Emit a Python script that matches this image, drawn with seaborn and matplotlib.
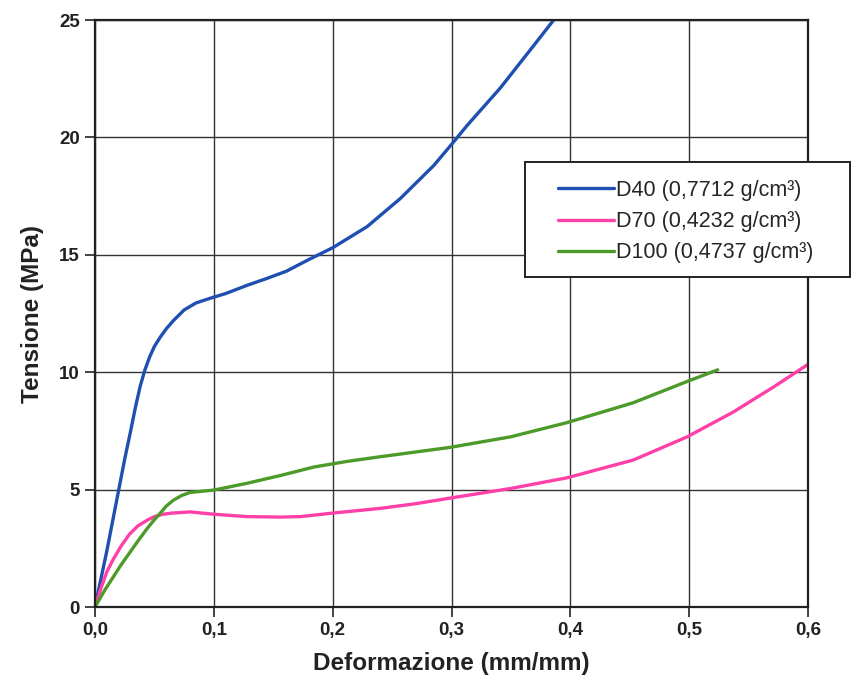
import pandas as pd
import matplotlib
matplotlib.use("Agg")
import matplotlib.pyplot as plt
import seaborn as sns
from matplotlib.patches import Rectangle

# Curve data (strain in mm/mm, stress in MPa)
d40_strain = [0, 0.005, 0.010, 0.015, 0.020, 0.025, 0.030, 0.034, 0.038, 0.042,
              0.046, 0.050, 0.055, 0.060, 0.066, 0.075, 0.085, 0.097, 0.110, 0.128,
              0.145, 0.161, 0.180, 0.200, 0.229, 0.257, 0.285, 0.300, 0.313, 0.341,
              0.369, 0.386]
d40_stress = [0, 1.2, 2.4, 3.7, 5.0, 6.3, 7.5, 8.5, 9.4, 10.1,
              10.65, 11.1, 11.5, 11.85, 12.2, 12.65, 12.95, 13.15, 13.35, 13.7,
              14.0, 14.3, 14.8, 15.3, 16.2, 17.4, 18.8, 19.7, 20.5, 22.1,
              23.9, 25.0]

d70_strain = [0, 0.005, 0.010, 0.015, 0.022, 0.029, 0.036, 0.044, 0.050, 0.057,
              0.065, 0.080, 0.100, 0.128, 0.156, 0.173, 0.200, 0.240, 0.270, 0.299,
              0.350, 0.397, 0.453, 0.498, 0.537, 0.571, 0.599]
d70_stress = [0, 0.8, 1.5, 2.0, 2.6, 3.1, 3.45, 3.7, 3.85, 3.95,
              4.0, 4.05, 3.95, 3.85, 3.83, 3.85, 4.0, 4.2, 4.4, 4.64,
              5.05, 5.5, 6.26, 7.24, 8.3, 9.37, 10.3]

d100_strain = [0, 0.008, 0.015, 0.022, 0.029, 0.036, 0.044, 0.050, 0.055, 0.060,
               0.066, 0.073, 0.080, 0.100, 0.128, 0.156, 0.184, 0.212, 0.240, 0.299,
               0.350, 0.397, 0.453, 0.498, 0.524]
d100_stress = [0, 0.7, 1.25, 1.8, 2.3, 2.8, 3.35, 3.72, 4.0, 4.3,
               4.55, 4.75, 4.88, 4.98, 5.27, 5.6, 5.96, 6.2, 6.4, 6.8,
               7.25, 7.85, 8.7, 9.6, 10.1]

series_labels = ["D40 (0,7712 g/cm³)", "D70 (0,4232 g/cm³)", "D100 (0,4737 g/cm³)"]
series_colors = ["#1f4fb0", "#ff40a8", "#4c9a2a"]

x_ticks = [0.0, 0.1, 0.2, 0.3, 0.4, 0.5, 0.6]
x_tick_labels = ["0,0", "0,1", "0,2", "0,3", "0,4", "0,5", "0,6"]
y_ticks = [0, 5, 10, 15, 20, 25]

# long-form table for seaborn
frames = []
for lab, xs, ys in zip(series_labels,
                       [d40_strain, d70_strain, d100_strain],
                       [d40_stress, d70_stress, d100_stress]):
    frames.append(pd.DataFrame({"strain": xs, "stress": ys, "serie": lab}))
df = pd.concat(frames, ignore_index=True)

sns.set_theme(style="white")
plt.rcParams["font.family"] = ["Liberation Sans", "DejaVu Sans"]

fig = plt.figure(figsize=(8.55, 6.99), dpi=100)
ax = fig.add_axes([95 / 855, 1 - 607 / 699, (808 - 95) / 855, (607 - 20) / 699])

sns.lineplot(data=df, x="strain", y="stress", hue="serie", sort=False,
             palette=dict(zip(series_labels, series_colors)),
             linewidth=2.4, ax=ax, legend=True)

ax.set_xlim(0, 0.6)
ax.set_ylim(0, 25)
ax.set_xticks(x_ticks)
ax.set_xticklabels(x_tick_labels)
ax.set_yticks(y_ticks)
ax.grid(True, color="#333333", linewidth=1.0)
ax.set_axisbelow(True)
for s in ax.spines.values():
    s.set_color("#222222")
    s.set_linewidth(1.6)
ax.tick_params(axis="both", direction="out", length=7, width=1.2, color="#222222",
               labelsize=13.5, pad=4, bottom=True, left=True)
for lbl in ax.get_xticklabels() + ax.get_yticklabels():
    lbl.set_fontweight("bold")
    lbl.set_color("#222222")

ax.set_xlabel("Deformazione (mm/mm)", fontsize=17.5, fontweight="bold",
              color="#222222", labelpad=9)
ax.set_ylabel("Tensione (MPa)", fontsize=17.5, fontweight="bold",
              color="#222222", labelpad=11)

# legend without frame, box drawn separately so it can overhang the axes
handles, labels = ax.get_legend_handles_labels()
leg = ax.legend(handles, labels, loc="upper left", frameon=False, fontsize=15.5,
                handlelength=2.6, handletextpad=0.1, borderpad=0, labelspacing=0.48,
                bbox_to_anchor=(547 / 855, 1 - 169 / 699),
                bbox_transform=fig.transFigure)
leg.set_zorder(6)
box = Rectangle((525 / 855, 1 - 277 / 699), 325 / 855, 115 / 699,
                transform=fig.transFigure, facecolor="white",
                edgecolor="#222222", linewidth=1.4, zorder=5, clip_on=False)
ax.add_patch(box)

fig.savefig("out.png", dpi=100, facecolor="white")
